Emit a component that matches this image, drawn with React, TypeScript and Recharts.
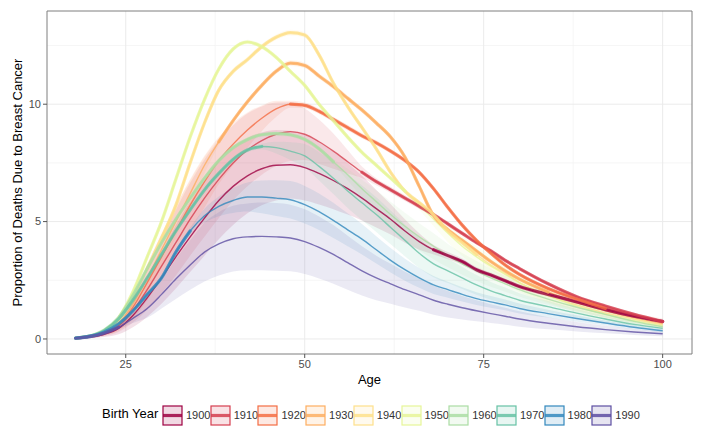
import React from 'react';
import { ComposedChart, Line, Area, XAxis, YAxis, CartesianGrid, ReferenceArea, Label } from 'recharts';

const AGES = [18,20,22,24,26,28,30,32,34,36,38,40,42,44,46,48,50,52,54,56,58,60,62,64,66,68,70,72,74,76,78,80,84,88,92,96,100];

const COHORTS = [1900, 1910, 1920, 1930, 1940, 1950, 1960, 1970, 1980, 1990];
const COLORS = ['#9E0142', '#D53E4F', '#F46D43', '#FDAE61', '#FEE08B', '#E6F598', '#ABDDA4', '#66C2A5', '#3288BD', '#5E4FA2'];

// observed age windows (thick segments)
const OBS_START = [68, 58, 48, 38, 28, 18, 18, 18, 18, 18];
const OBS_END = [100, 100, 94, 84, 74, 64, 54, 44, 34, 24];

const V1900 = [0.03,0.08,0.2,0.45,1.0,1.75,2.6,3.5,4.35,5.15,5.9,6.5,6.95,7.25,7.4,7.42,7.3,7.05,6.75,6.4,6.0,5.55,5.1,4.6,4.15,3.8,3.55,3.3,2.95,2.72,2.48,2.23,1.9,1.58,1.25,0.97,0.75];
const V1910 = [0.03,0.1,0.25,0.55,1.2,2.1,3.1,4.1,5.1,6.0,6.8,7.5,8.05,8.45,8.72,8.83,8.72,8.4,8.0,7.55,7.1,6.7,6.35,6.0,5.65,5.3,4.9,4.5,4.1,3.75,3.35,3.0,2.35,1.8,1.4,1.05,0.74];
const V1920 = [0.03,0.1,0.27,0.6,1.35,2.4,3.5,4.6,5.7,6.7,7.6,8.3,8.9,9.4,9.8,10.0,9.95,9.7,9.35,9.0,8.65,8.35,8.0,7.6,7.1,6.4,5.6,4.85,4.2,3.65,3.15,2.75,2.15,1.7,1.3,1.0,0.72];
const V1930 = [0.03,0.1,0.28,0.65,1.5,2.6,3.8,5.0,6.2,7.4,8.4,9.3,10.1,10.8,11.4,11.75,11.65,11.2,10.75,10.25,9.75,9.2,8.6,7.75,6.5,5.25,4.65,4.2,3.75,3.3,2.9,2.55,2.0,1.55,1.2,0.9,0.66];
const V1940 = [0.03,0.1,0.3,0.75,1.7,3.0,4.3,5.7,7.5,9.2,10.6,11.4,11.9,12.45,12.85,13.05,12.95,12.1,10.9,9.9,9.0,8.1,7.1,6.3,5.8,5.3,4.6,4.1,3.6,3.15,2.8,2.4,1.85,1.45,1.1,0.85,0.6];
const V1950 = [0.04,0.12,0.35,0.9,2.0,3.5,5.0,6.8,8.6,10.2,11.5,12.35,12.65,12.45,12.0,11.4,10.8,10.0,9.3,8.6,7.95,7.4,6.85,6.3,5.7,5.1,4.5,3.95,3.5,3.1,2.75,2.4,1.85,1.4,1.05,0.78,0.55];
const V1960 = [0.04,0.13,0.38,0.9,1.85,3.0,4.1,5.1,6.0,6.85,7.6,8.15,8.5,8.7,8.75,8.7,8.5,8.1,7.55,7.0,6.4,5.85,5.3,4.8,4.35,3.95,3.55,3.2,2.9,2.6,2.35,2.1,1.7,1.35,1.05,0.75,0.52];
const V1970 = [0.04,0.12,0.35,0.85,1.65,2.6,3.6,4.6,5.5,6.35,7.05,7.65,8.05,8.2,8.15,8.0,7.8,7.35,6.85,6.3,5.8,5.3,4.75,4.2,3.65,3.2,2.9,2.6,2.3,2.05,1.85,1.65,1.38,1.1,0.85,0.62,0.45];
const V1980 = [0.04,0.12,0.3,0.65,1.2,1.9,2.6,3.7,4.6,5.25,5.65,5.9,6.05,6.05,6.0,5.93,5.72,5.42,5.05,4.65,4.25,3.8,3.35,2.95,2.6,2.3,2.1,1.9,1.72,1.58,1.45,1.3,1.08,0.87,0.68,0.5,0.35];
const V1990 = [0.03,0.1,0.25,0.5,0.88,1.3,1.9,2.55,3.15,3.7,4.05,4.27,4.35,4.37,4.35,4.3,4.15,3.9,3.6,3.25,2.9,2.6,2.35,2.1,1.88,1.65,1.48,1.33,1.2,1.08,0.97,0.85,0.67,0.52,0.4,0.3,0.22];

// confidence-band half widths
const W1900 = [0.02,0.05,0.12,0.25,0.5,0.8,1.1,1.35,1.5,1.6,1.65,1.65,1.6,1.55,1.5,1.45,1.4,1.32,1.22,1.1,0.95,0.8,0.65,0.5,0.35,0.2,0.15,0.13,0.12,0.11,0.1,0.1,0.09,0.08,0.07,0.06,0.05];
const W1910 = [0.02,0.05,0.12,0.25,0.5,0.85,1.15,1.4,1.55,1.65,1.65,1.6,1.55,1.45,1.35,1.25,1.1,0.95,0.75,0.5,0.25,0.15,0.13,0.12,0.11,0.1,0.1,0.1,0.09,0.09,0.08,0.08,0.07,0.07,0.06,0.06,0.05];
const W1920 = [0.02,0.05,0.12,0.25,0.5,0.75,0.95,1.05,1.1,1.1,1.0,0.9,0.75,0.55,0.35,0.15,0.12,0.12,0.12,0.12,0.11,0.11,0.1,0.1,0.1,0.1,0.09,0.09,0.08,0.08,0.08,0.07,0.07,0.06,0.06,0.1,0.15];
const W1930 = [0.02,0.05,0.12,0.25,0.45,0.6,0.7,0.65,0.55,0.35,0.15,0.12,0.12,0.12,0.12,0.12,0.12,0.12,0.12,0.12,0.11,0.11,0.11,0.1,0.1,0.1,0.1,0.09,0.09,0.09,0.08,0.08,0.12,0.2,0.2,0.16,0.13];
const W1940 = [0.02,0.05,0.1,0.15,0.15,0.12,0.12,0.12,0.12,0.12,0.12,0.12,0.12,0.12,0.12,0.12,0.12,0.12,0.12,0.12,0.11,0.11,0.11,0.1,0.1,0.1,0.1,0.1,0.1,0.2,0.25,0.28,0.28,0.24,0.2,0.16,0.12];
const W1950 = [0.02,0.03,0.05,0.08,0.1,0.1,0.1,0.1,0.1,0.1,0.1,0.1,0.1,0.1,0.1,0.1,0.1,0.1,0.1,0.1,0.1,0.1,0.1,0.1,0.2,0.3,0.38,0.42,0.45,0.45,0.43,0.4,0.33,0.26,0.2,0.15,0.12];
const W1960 = [0.02,0.03,0.05,0.07,0.08,0.09,0.1,0.1,0.1,0.1,0.1,0.1,0.1,0.1,0.1,0.1,0.1,0.1,0.12,0.25,0.38,0.48,0.55,0.58,0.58,0.55,0.5,0.46,0.42,0.38,0.34,0.3,0.24,0.18,0.14,0.11,0.08];
const W1970 = [0.02,0.03,0.05,0.07,0.08,0.09,0.1,0.1,0.1,0.1,0.1,0.1,0.1,0.12,0.25,0.38,0.5,0.6,0.68,0.72,0.74,0.74,0.72,0.68,0.63,0.57,0.52,0.47,0.42,0.38,0.34,0.3,0.24,0.18,0.14,0.1,0.08];
const W1980 = [0.02,0.03,0.05,0.07,0.09,0.1,0.11,0.12,0.15,0.3,0.42,0.53,0.62,0.7,0.76,0.8,0.8,0.78,0.75,0.7,0.65,0.58,0.52,0.47,0.42,0.38,0.34,0.3,0.27,0.25,0.23,0.21,0.17,0.14,0.11,0.09,0.07];
const W1990 = [0.02,0.03,0.05,0.08,0.2,0.4,0.6,0.85,1.05,1.25,1.35,1.4,1.42,1.44,1.44,1.42,1.38,1.32,1.25,1.15,1.05,0.95,0.85,0.76,0.68,0.62,0.56,0.5,0.45,0.4,0.36,0.33,0.26,0.2,0.16,0.13,0.1];

const VALUES = [V1900, V1910, V1920, V1930, V1940, V1950, V1960, V1970, V1980, V1990];
const WIDTHS = [W1900, W1910, W1920, W1930, W1940, W1950, W1960, W1970, W1980, W1990];

const X_TICKS = [25, 50, 75, 100];
const Y_TICKS = [0, 5, 10];
const X_MINOR = [37.5, 62.5, 87.5];
const Y_MINOR = [2.5, 7.5, 12.5];
const X_DOMAIN: [number, number] = [14.0, 104.1];
const Y_DOMAIN: [number, number] = [-0.64, 13.97];

const data = AGES.map((age, i) => {
  const row: any = { age };
  COHORTS.forEach((c, k) => {
    const v = VALUES[k][i];
    const w = WIDTHS[k][i];
    row['v' + c] = v;
    row['t' + c] = age >= OBS_START[k] && age <= OBS_END[k] ? v : null;
    row['r' + c] = [Math.max(0, v - w), v + w];
  });
  return row;
});

const FONT = '"Liberation Sans", Arial, Helvetica, sans-serif';

const YTitle = (props: any) => {
  const vb = props.viewBox || { x: 0, y: 11, width: 47, height: 343 };
  const cx = vb.x + 17;
  const cy = vb.y + vb.height / 2;
  return (
    <text x={cx} y={cy} transform={`rotate(-90, ${cx}, ${cy})`} textAnchor="middle" dominantBaseline="central" fontSize={13} fill="#000" fontFamily={FONT}>
      Proportion of Deaths Due to Breast Cancer
    </text>
  );
};

const XTitle = (props: any) => {
  const vb = props.viewBox || { x: 47, y: 354, width: 645, height: 30 };
  const cx = vb.x + vb.width / 2;
  return (
    <text x={cx} y={vb.y + 30} textAnchor="middle" fontSize={13} fill="#000" fontFamily={FONT}>
      Age
    </text>
  );
};

const LegendBox = ({ color, label, left }: { color: string; label: string; left: number }) => (
  <div style={{ position: 'absolute', left, top: 0, height: 20, display: 'flex', alignItems: 'center' }}>
    <svg width={21} height={21} style={{ display: 'block' }}>
      <rect x={1} y={1} width={19} height={19} fill={color} fillOpacity={0.15} stroke={color} strokeWidth={1.2} />
      <line x1={1} x2={20} y1={10.5} y2={10.5} stroke={color} strokeWidth={3.2} strokeOpacity={0.85} />
    </svg>
    <span style={{ marginLeft: 3, fontSize: 11, color: '#333', fontFamily: FONT }}>{label}</span>
  </div>
);

export default function App() {
  return (
    <div style={{ position: 'absolute', left: 0, top: 0, width: 704, height: 437, background: '#fff', fontFamily: FONT }}>
      <ComposedChart width={704} height={437} data={data} margin={{ top: 11, right: 12, bottom: 53, left: 0 }}>
        <CartesianGrid stroke="#F2F2F2" strokeWidth={0.7} horizontalValues={Y_MINOR} verticalValues={X_MINOR} />
        <CartesianGrid stroke="#EBEBEB" strokeWidth={1} horizontalValues={Y_TICKS} verticalValues={X_TICKS} />
        <XAxis
          dataKey="age"
          type="number"
          domain={X_DOMAIN}
          ticks={X_TICKS}
          allowDataOverflow
          height={30}
          tickSize={4}
          axisLine={false}
          tickLine={{ stroke: '#555' }}
          tick={{ fontSize: 11, fill: '#4D4D4D', fontFamily: FONT }}
        >
          <Label content={<XTitle />} />
        </XAxis>
        <YAxis
          type="number"
          domain={Y_DOMAIN}
          ticks={Y_TICKS}
          allowDataOverflow
          width={47}
          tickSize={4}
          axisLine={false}
          tickLine={{ stroke: '#555' }}
          tick={{ fontSize: 11, fill: '#4D4D4D', fontFamily: FONT }}
        >
          <Label content={<YTitle />} />
        </YAxis>
        {COHORTS.map((c, k) => (
          <Area
            key={'r' + c}
            dataKey={'r' + c}
            type="monotone"
            stroke="none"
            fill={COLORS[k]}
            fillOpacity={0.12}
            isAnimationActive={false}
            activeDot={false}
            dot={false}
          />
        ))}
        {COHORTS.map((c, k) => (
          <Line
            key={'v' + c}
            dataKey={'v' + c}
            type="monotone"
            stroke={COLORS[k]}
            strokeOpacity={0.8}
            strokeWidth={1.4}
            dot={false}
            activeDot={false}
            isAnimationActive={false}
          />
        ))}
        {COHORTS.map((c, k) => (
          <Line
            key={'t' + c}
            dataKey={'t' + c}
            type="monotone"
            stroke={COLORS[k]}
            strokeOpacity={0.8}
            strokeWidth={3.2}
            strokeLinecap="round"
            dot={false}
            activeDot={false}
            connectNulls={false}
            isAnimationActive={false}
          />
        ))}
        <ReferenceArea x1={X_DOMAIN[0]} x2={X_DOMAIN[1]} y1={Y_DOMAIN[0]} y2={Y_DOMAIN[1]} fill="none" stroke="#7F7F7F" strokeWidth={1} ifOverflow="visible" />
      </ComposedChart>
      <div style={{ position: 'absolute', left: 0, top: 405, width: 704, height: 20 }}>
        <span style={{ position: 'absolute', left: 102, top: 1, fontSize: 13, color: '#000', fontFamily: FONT }}>Birth Year</span>
        {COHORTS.map((c, k) => (
          <LegendBox key={c} color={COLORS[k]} label={String(c)} left={162 + k * 47.7} />
        ))}
      </div>
    </div>
  );
}
